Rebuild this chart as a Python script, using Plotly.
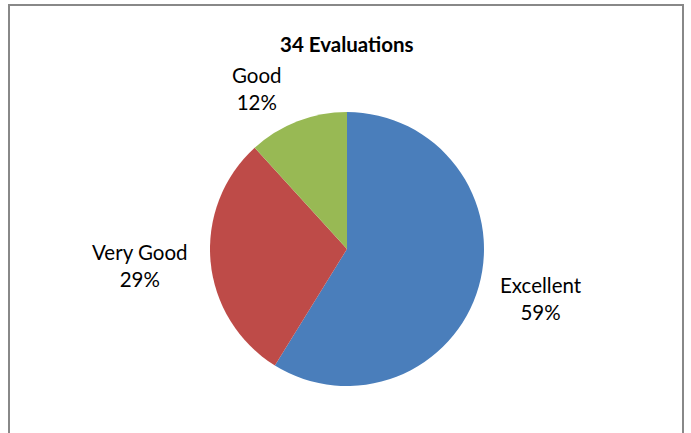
import plotly.graph_objects as go

labels = ["Excellent", "Very Good", "Good"]
counts = [20, 10, 4]
colors = ["#4A7EBB", "#BE4B48", "#98B954"]
title_text = "34 Evaluations"

W, H = 691, 433
cx, cy, r = 347, 249, 137
FONT = "Lato, 'Open Sans', sans-serif"

fig = go.Figure(go.Pie(
    labels=labels,
    values=counts,
    sort=False,
    direction="clockwise",
    rotation=0,
    marker=dict(colors=colors, line=dict(width=0)),
    textinfo="none",
    hoverinfo="label+percent",
    domain=dict(x=[(cx - r) / W, (cx + r) / W], y=[(H - cy - r) / H, (H - cy + r) / H]),
    showlegend=False,
))

# data labels placed like the Excel original
label_pos = {"Excellent": (541, 298), "Very Good": (140, 265), "Good": (257, 88)}
total = sum(counts)
for lab, c in zip(labels, counts):
    x, y = label_pos[lab]
    fig.add_annotation(
        x=x / W, y=1 - y / H, xref="paper", yref="paper",
        text=f"{lab}<br>{round(100 * c / total)}%",
        showarrow=False, xanchor="center", yanchor="middle",
        font=dict(family=FONT, size=20.5, color="#000000"),
        align="center",
    )

fig.add_annotation(
    x=347 / W, y=1 - 44 / H, xref="paper", yref="paper",
    text=f"<b>{title_text}</b>", showarrow=False,
    xanchor="center", yanchor="middle",
    font=dict(family=FONT, size=20.5, color="#000000"),
)

fig.add_shape(type="rect", xref="paper", yref="paper",
              x0=9 / W, x1=683 / W, y0=-0.1, y1=1 - 5 / H,
              line=dict(color="#888888", width=2), fillcolor="rgba(0,0,0,0)")

fig.update_layout(
    width=W, height=H,
    margin=dict(l=0, r=0, t=0, b=0),
    paper_bgcolor="white", plot_bgcolor="white",
)

fig.write_html(
    "out.html",
    config={"displayModeBar": False},
    post_script="document.body.style.margin='0';document.body.style.overflow='hidden';",
)
